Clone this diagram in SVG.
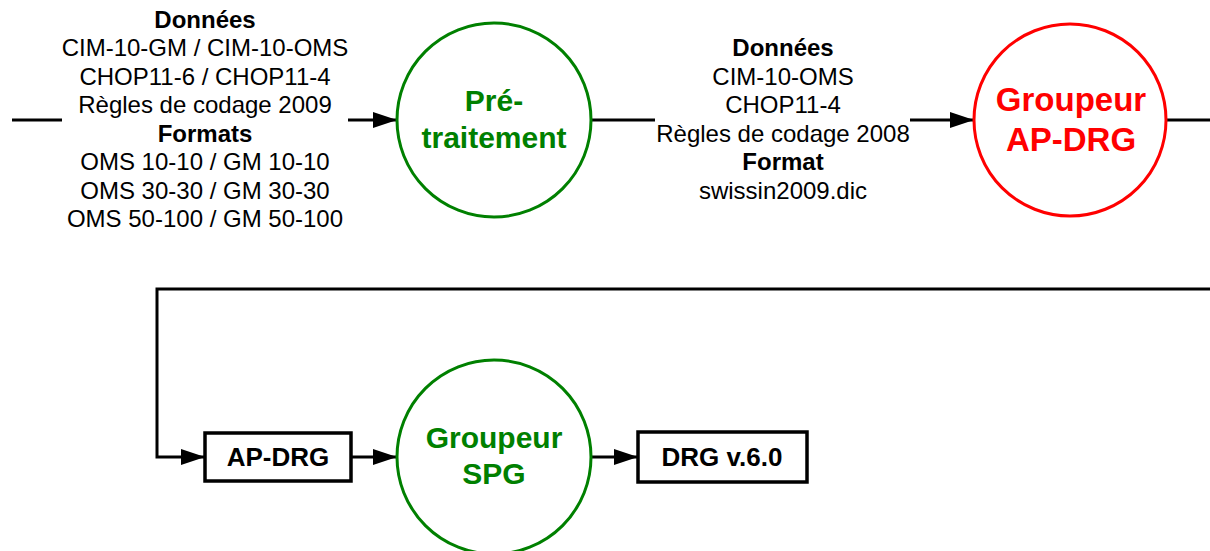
<svg xmlns="http://www.w3.org/2000/svg" width="1210" height="551" viewBox="0 0 1210 551">
<style>
.ln{fill:none;stroke:#000;stroke-width:3}
.lbl{font-family:"Liberation Sans",Arial,sans-serif;font-size:24px;fill:#000;text-anchor:middle}
.b{font-weight:bold}
.ctext{font-family:"Liberation Sans",Arial,sans-serif;font-weight:bold;text-anchor:middle}
.box{fill:#fff;stroke:#000;stroke-width:3.5}
.btext{font-family:"Liberation Sans",Arial,sans-serif;font-weight:bold;font-size:26px;text-anchor:middle;fill:#000}
</style>
<defs>
<marker id="ah" markerUnits="userSpaceOnUse" markerWidth="26" markerHeight="18" refX="24" refY="8" orient="auto">
<path d="M0,0 L24,8 L0,16 z" fill="#000"/>
</marker>
</defs>
<rect width="1210" height="551" fill="#fff"/>
<g id="connectors">
<line class="ln" x1="12" y1="120" x2="62" y2="120"/>
<line class="ln" x1="348" y1="120" x2="397" y2="120" marker-end="url(#ah)"/>
<line class="ln" x1="591" y1="120" x2="655" y2="120"/>
<line class="ln" x1="910" y1="120" x2="974" y2="120" marker-end="url(#ah)"/>
<line class="ln" x1="1167" y1="120" x2="1210" y2="120"/>
<polyline class="ln" points="1210,289 157,289 157,457 205,457" marker-end="url(#ah)"/>
<line class="ln" x1="351" y1="457" x2="397" y2="457" marker-end="url(#ah)"/>
<line class="ln" x1="591" y1="457" x2="638" y2="457" marker-end="url(#ah)"/>
</g>
<g id="label-input">
<text class="lbl b" x="205" y="28">Données</text>
<text class="lbl" x="205" y="56">CIM-10-GM / CIM-10-OMS</text>
<text class="lbl" x="205" y="85">CHOP11-6 / CHOP11-4</text>
<text class="lbl" x="205" y="113">Règles de codage 2009</text>
<text class="lbl b" x="205" y="142">Formats</text>
<text class="lbl" x="205" y="170">OMS 10-10 / GM 10-10</text>
<text class="lbl" x="205" y="199">OMS 30-30 / GM 30-30</text>
<text class="lbl" x="205" y="227">OMS 50-100 / GM 50-100</text>
</g>
<g id="label-mid">
<text class="lbl b" x="783" y="56">Données</text>
<text class="lbl" x="783" y="85">CIM-10-OMS</text>
<text class="lbl" x="783" y="113">CHOP11-4</text>
<text class="lbl" x="783" y="142">Règles de codage 2008</text>
<text class="lbl b" x="783" y="170">Format</text>
<text class="lbl" x="783" y="199">swissin2009.dic</text>
</g>
<g id="pretraitement">
<circle cx="494" cy="120" r="97" fill="#fff" stroke="#008000" stroke-width="3"/>
<text class="ctext" x="494" y="111" font-size="30" fill="#008000">Pré-</text>
<text class="ctext" x="494" y="148" font-size="30" fill="#008000">traitement</text>
</g>
<g id="groupeur-apdrg">
<circle cx="1070" cy="120" r="96" fill="#fff" stroke="#ff0000" stroke-width="3"/>
<text class="ctext" x="1071" y="111" font-size="33" fill="#ff0000">Groupeur</text>
<text class="ctext" x="1071" y="151" font-size="33" fill="#ff0000">AP-DRG</text>
</g>
<g id="apdrg-box">
<rect class="box" x="205" y="433" width="146" height="48"/>
<text class="btext" x="278" y="466">AP-DRG</text>
</g>
<g id="groupeur-spg">
<circle cx="494" cy="457" r="97" fill="#fff" stroke="#008000" stroke-width="3"/>
<text class="ctext" x="494" y="448" font-size="30" fill="#008000">Groupeur</text>
<text class="ctext" x="494" y="484" font-size="30" fill="#008000">SPG</text>
</g>
<g id="drg-box">
<rect class="box" x="638" y="432" width="169" height="50"/>
<text class="btext" x="722" y="466">DRG v.6.0</text>
</g>
</svg>
